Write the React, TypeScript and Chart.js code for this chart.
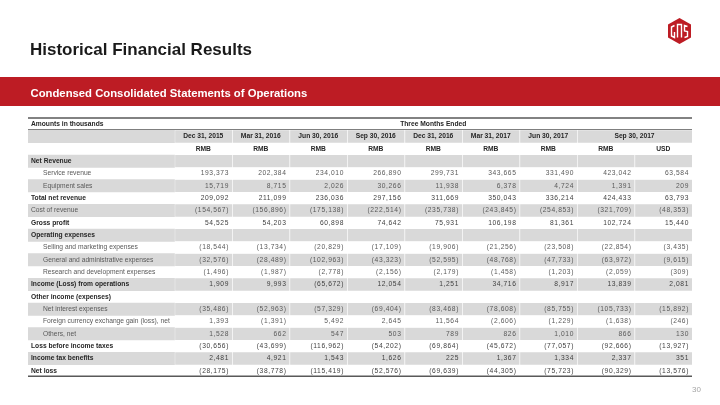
import React, { useEffect, useRef } from 'react';
import { Chart, registerables } from 'chart.js';

Chart.register(...registerables);

// ---------- data ----------
const TITLE = 'Historical Financial Results';
const SUBTITLE = 'Condensed Consolidated Statements of Operations';
const UNITS_NOTE = 'Amounts in thousands';
const PERIOD_GROUP = 'Three Months Ended';
const PAGE_NUMBER = '30';

const PERIODS = ['Dec 31, 2015', 'Mar 31, 2016', 'Jun 30, 2016', 'Sep 30, 2016', 'Dec 31, 2016', 'Mar 31, 2017', 'Jun 30, 2017', 'Sep 30, 2017'];
const PERIOD_SPANS = [1, 1, 1, 1, 1, 1, 1, 2];
const CURRENCIES = ['RMB', 'RMB', 'RMB', 'RMB', 'RMB', 'RMB', 'RMB', 'RMB', 'USD'];

const ROW_LABELS = [
  'Net Revenue',
  'Service revenue',
  'Equipment sales',
  'Total net revenue',
  'Cost of revenue',
  'Gross profit',
  'Operating expenses',
  'Selling and marketing expenses',
  'General and administrative expenses',
  'Research and development expenses',
  'Income (Loss) from operations',
  'Other income (expenses)',
  'Net interest expenses',
  'Foreign currency exchange gain (loss), net',
  'Others, net',
  'Loss before income taxes',
  'Income tax benefits',
  'Net loss',
];
const ROW_BOLD = [1, 0, 0, 1, 0, 1, 1, 0, 0, 0, 1, 1, 0, 0, 0, 1, 1, 1];
const ROW_INDENT = [0, 1, 1, 0, 0, 0, 0, 1, 1, 1, 0, 0, 1, 1, 1, 0, 0, 0];

const SERVICE_REVENUE = [193373, 202384, 234010, 266890, 299731, 343665, 331490, 423042, 63584];
const EQUIPMENT_SALES = [15719, 8715, 2026, 30266, 11938, 6378, 4724, 1391, 209];
const TOTAL_NET_REVENUE = [209092, 211099, 236036, 297156, 311669, 350043, 336214, 424433, 63793];
const COST_OF_REVENUE = [-154567, -156896, -175138, -222514, -235738, -243845, -254853, -321709, -48353];
const GROSS_PROFIT = [54525, 54203, 60898, 74642, 75931, 106198, 81361, 102724, 15440];
const SELLING_MARKETING = [-18544, -13734, -20829, -17109, -19906, -21256, -23508, -22854, -3435];
const GENERAL_ADMIN = [-32576, -28489, -102963, -43323, -52595, -48768, -47733, -63972, -9615];
const RESEARCH_DEV = [-1496, -1987, -2778, -2156, -2179, -1458, -1203, -2059, -309];
const INCOME_FROM_OPS = [1909, 9993, -65672, 12054, 1251, 34716, 8917, 13839, 2081];
const NET_INTEREST = [-35486, -52963, -57329, -69404, -83468, -78608, -85755, -105733, -15892];
const FX_GAIN_LOSS = [1393, -1391, 5492, 2645, 11564, -2606, -1229, -1638, -246];
const OTHERS_NET = [1528, 662, 547, 503, 789, 826, 1010, 866, 130];
const LOSS_BEFORE_TAX = [-30656, -43699, -116962, -54202, -69864, -45672, -77057, -92666, -13927];
const INCOME_TAX_BENEFITS = [2481, 4921, 1543, 1626, 225, 1367, 1334, 2337, 351];
const NET_LOSS = [-28175, -38778, -115419, -52576, -69639, -44305, -75723, -90329, -13576];

const ROW_VALUES: (number[] | null)[] = [
  null,
  SERVICE_REVENUE,
  EQUIPMENT_SALES,
  TOTAL_NET_REVENUE,
  COST_OF_REVENUE,
  GROSS_PROFIT,
  null,
  SELLING_MARKETING,
  GENERAL_ADMIN,
  RESEARCH_DEV,
  INCOME_FROM_OPS,
  null,
  NET_INTEREST,
  FX_GAIN_LOSS,
  OTHERS_NET,
  LOSS_BEFORE_TAX,
  INCOME_TAX_BENEFITS,
  NET_LOSS,
];

// ---------- layout / style ----------
const HEADER_ROWS = 3;
const TOTAL_ROWS = HEADER_ROWS + ROW_LABELS.length;
const LABEL_UNITS = 2.548;
const DATA_COLS = CURRENCIES.length;
const TOTAL_UNITS = LABEL_UNITS + DATA_COLS;
const FONT = '"Liberation Sans", Arial, Helvetica, sans-serif';
const RED = '#bd1c24';
const GRAY = '#d9d9d9';
const DARK = '#262626';
const MID = '#595959';

const colStart = (c: number) => (c === 0 ? 0 : LABEL_UNITS + (c - 1));
const colEnd = (c: number) => (c === 0 ? LABEL_UNITS : LABEL_UNITS + c);

const fmt = (n: number) => {
  const s = Math.abs(n).toLocaleString('en-US');
  return n < 0 ? `(${s})` : s;
};

function buildDatasets() {
  const rowKeys = Array.from({ length: TOTAL_ROWS }, (_, i) => String(i));
  const datasets: any[] = [];
  for (let c = 0; c <= DATA_COLS; c++) {
    const data: any[] = [];
    const colors: string[] = [];
    for (let r = 0; r < TOTAL_ROWS; r++) {
      const striped = r % 2 === 1;
      let start = colStart(c);
      let end = colEnd(c);
      let color = striped ? GRAY : 'rgba(255,255,255,0)';
      if (r === 1 && c === DATA_COLS - 1) end = colEnd(c + 1); // merged Sep 30, 2017 header
      if (r === 1 && c === DATA_COLS) color = 'rgba(255,255,255,0)';
      data.push({ y: rowKeys[r], x: [start, end] });
      colors.push(color);
    }
    datasets.push({
      data,
      backgroundColor: colors,
      borderColor: colors.map((col) => (col === GRAY ? '#ffffff' : 'rgba(255,255,255,0)')),
      borderWidth: { left: c === 0 ? 0 : 1, right: 0, top: 0, bottom: 0 },
      borderSkipped: false,
      grouped: false,
      barPercentage: 1,
      categoryPercentage: 1,
    });
  }
  return { labels: rowKeys, datasets };
}

const pagePlugin = {
  id: 'pageDecor',
  beforeDraw(chart: any) {
    const ctx = chart.ctx as CanvasRenderingContext2D;
    ctx.save();
    // title
    ctx.fillStyle = '#1a1a1a';
    ctx.font = `bold 17px ${FONT}`;
    ctx.textAlign = 'left';
    ctx.textBaseline = 'alphabetic';
    ctx.fillText(TITLE, 30, 54.5);
    // red band
    ctx.fillStyle = RED;
    ctx.fillRect(0, 77, chart.width, 29);
    ctx.fillStyle = '#ffffff';
    ctx.font = `bold 11.3px ${FONT}`;
    ctx.fillText(SUBTITLE, 30.5, 97);
    // logo
    const cx = 679.5, top = 18, w = 23, h = 26;
    ctx.beginPath();
    ctx.moveTo(cx, top);
    ctx.lineTo(cx + w / 2, top + h / 4);
    ctx.lineTo(cx + w / 2, top + (3 * h) / 4);
    ctx.lineTo(cx, top + h);
    ctx.lineTo(cx - w / 2, top + (3 * h) / 4);
    ctx.lineTo(cx - w / 2, top + h / 4);
    ctx.closePath();
    ctx.fillStyle = RED;
    ctx.fill();
    ctx.strokeStyle = '#ffffff';
    ctx.lineWidth = 1.4;
    ctx.beginPath();
    ctx.moveTo(674.5, 25.5); ctx.lineTo(671.5, 27); ctx.lineTo(671.5, 36); ctx.lineTo(674.5, 37.5); ctx.lineTo(674.5, 32);
    ctx.moveTo(677.5, 37.5); ctx.lineTo(677.5, 24.5); ctx.lineTo(681.5, 24.5); ctx.lineTo(681.5, 37.5);
    ctx.moveTo(687.5, 26.5); ctx.lineTo(684.5, 25.5); ctx.lineTo(684.5, 31); ctx.lineTo(687.5, 31.5); ctx.lineTo(687.5, 36.5); ctx.lineTo(684.5, 37.5);
    ctx.stroke();
    // page number
    ctx.fillStyle = '#a6a6a6';
    ctx.font = `8px ${FONT}`;
    ctx.textAlign = 'right';
    ctx.textBaseline = 'middle';
    ctx.fillText(PAGE_NUMBER, 701, 390);
    ctx.restore();
  },
};

const tablePlugin = {
  id: 'tableText',
  afterDatasetsDraw(chart: any) {
    const ctx = chart.ctx as CanvasRenderingContext2D;
    const { chartArea } = chart;
    const x = chart.scales.x;
    const y = chart.scales.y;
    const rowH = y.getPixelForValue(1) - y.getPixelForValue(0);
    const px = (v: number) => x.getPixelForValue(v);
    const left = chartArea.left;
    ctx.save();
    ctx.textBaseline = 'middle';

    const labelFont = (bold: boolean) => `${bold ? 'bold ' : ''}6.7px ${FONT}`;

    // header row 0
    ctx.fillStyle = DARK;
    ctx.font = labelFont(true);
    ctx.textAlign = 'left';
    ctx.fillText(UNITS_NOTE, left + 3, y.getPixelForValue(0));
    ctx.textAlign = 'center';
    ctx.fillText(PERIOD_GROUP, px((LABEL_UNITS + TOTAL_UNITS) / 2), y.getPixelForValue(0));

    // periods
    let c = 1;
    PERIODS.forEach((p, i) => {
      const span = PERIOD_SPANS[i];
      const mid = (colStart(c) + colEnd(c + span - 1)) / 2;
      ctx.fillText(p, px(mid), y.getPixelForValue(1));
      c += span;
    });
    // currencies
    CURRENCIES.forEach((cur, i) => {
      const mid = (colStart(i + 1) + colEnd(i + 1)) / 2;
      ctx.fillText(cur, px(mid), y.getPixelForValue(2));
    });

    // body rows
    ROW_LABELS.forEach((label, i) => {
      const r = HEADER_ROWS + i;
      const cy = y.getPixelForValue(r);
      const bold = !!ROW_BOLD[i];
      ctx.textAlign = 'left';
      ctx.font = labelFont(bold);
      ctx.fillStyle = bold ? DARK : MID;
      (ctx as any).letterSpacing = '0px';
      ctx.fillText(label, left + (ROW_INDENT[i] ? 15 : 3), cy);
      const vals = ROW_VALUES[i];
      if (!vals) return;
      ctx.textAlign = 'right';
      ctx.font = `6.7px ${FONT}`;
      (ctx as any).letterSpacing = '0.6px';
      ctx.fillStyle = bold ? '#404040' : MID;
      vals.forEach((v, j) => {
        ctx.fillText(fmt(v), px(colEnd(j + 1)) - 3, cy);
      });
    });
    (ctx as any).letterSpacing = '0px';

    // rules
    ctx.strokeStyle = '#595959';
    ctx.lineWidth = 1.6;
    ctx.beginPath();
    ctx.moveTo(chartArea.left, chartArea.top);
    ctx.lineTo(chartArea.right, chartArea.top);
    ctx.moveTo(chartArea.left, chartArea.bottom - 0.8);
    ctx.lineTo(chartArea.right, chartArea.bottom - 0.8);
    ctx.stroke();
    ctx.strokeStyle = '#7f7f7f';
    ctx.lineWidth = 1;
    ctx.beginPath();
    const ly = Math.round(chartArea.top + rowH) + 0.5;
    ctx.moveTo(chartArea.left, ly - 1);
    ctx.lineTo(chartArea.right, ly - 1);
    ctx.stroke();
    ctx.restore();
  },
};

export default function App() {
  const ref = useRef<HTMLCanvasElement | null>(null);
  useEffect(() => {
    if (!ref.current) return;
    const chart = new Chart(ref.current, {
      type: 'bar',
      data: buildDatasets() as any,
      options: {
        indexAxis: 'y',
        responsive: false,
        animation: false,
        devicePixelRatio: 1,
        events: [],
        layout: { padding: { left: 28, right: 28, top: 118, bottom: 28 } },
        scales: {
          x: { type: 'linear', min: 0, max: TOTAL_UNITS, display: false },
          y: { type: 'category', display: false, offset: true },
        },
        plugins: { legend: { display: false }, tooltip: { enabled: false }, title: { display: false } },
      } as any,
      plugins: [pagePlugin, tablePlugin],
    });
    return () => chart.destroy();
  }, []);
  return (
    <div style={{ position: 'absolute', left: 0, top: 0, width: 720, height: 405, background: '#ffffff' }}>
      <canvas ref={ref} width={720} height={405} style={{ display: 'block' }} />
    </div>
  );
}
